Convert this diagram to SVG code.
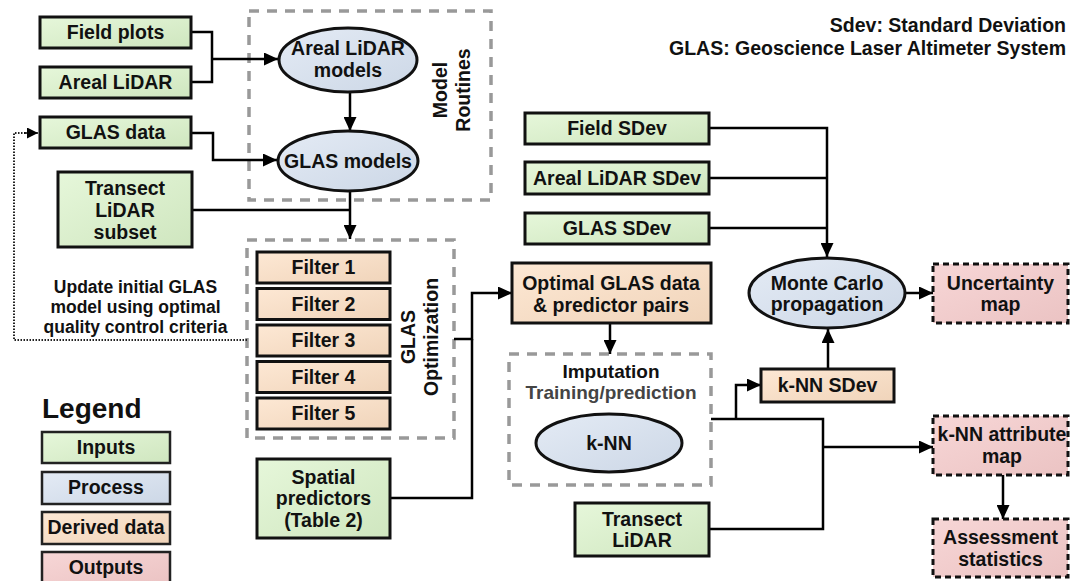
<svg xmlns="http://www.w3.org/2000/svg" width="1071" height="581" viewBox="0 0 1071 581">
<defs>
<linearGradient id="gIn" x1="0" y1="0" x2="1" y2="1"><stop offset="0" stop-color="#e6f7da"/><stop offset="1" stop-color="#cfe6bf"/></linearGradient>
<linearGradient id="gPr" x1="0" y1="0" x2="1" y2="1"><stop offset="0" stop-color="#e4ebf5"/><stop offset="1" stop-color="#ccd7e6"/></linearGradient>
<linearGradient id="gDe" x1="0" y1="0" x2="1" y2="1"><stop offset="0" stop-color="#fde8d4"/><stop offset="1" stop-color="#f0d4ba"/></linearGradient>
<linearGradient id="gOu" x1="0" y1="0" x2="1" y2="1"><stop offset="0" stop-color="#f7d6d6"/><stop offset="1" stop-color="#ebc3c3"/></linearGradient>
<marker id="ah" markerUnits="userSpaceOnUse" markerWidth="15" markerHeight="13" refX="14" refY="6.5" orient="auto"><path d="M0,0 L14,6.5 L0,13 z" fill="#000"/></marker>
<marker id="ahs" markerUnits="userSpaceOnUse" markerWidth="12" markerHeight="11" refX="11" refY="5.5" orient="auto"><path d="M0,0 L11,5.5 L0,11 z" fill="#000"/></marker>
</defs>
<style>
text{font-family:"Liberation Sans",Arial,sans-serif;font-weight:bold;font-size:19.5px;fill:#111;text-anchor:middle}
.in{fill:url(#gIn);stroke:#111;stroke-width:3}
.pr{fill:url(#gPr);stroke:#111;stroke-width:3}
.de{fill:url(#gDe);stroke:#111;stroke-width:3}
.ou{fill:url(#gOu);stroke:#111;stroke-width:3;stroke-dasharray:6 4}
.lg{stroke:#222;stroke-width:2.5}
.grp{fill:none;stroke:#999;stroke-width:3.5;stroke-dasharray:10 8}
.c{fill:none;stroke:#000;stroke-width:2.5}
.a{marker-end:url(#ah)}
.dot{fill:none;stroke:#222;stroke-width:2;stroke-dasharray:1.5 1.5}
.sub{fill:#444}
</style>

<g id="group-model-routines">
<rect class="grp" x="249" y="11" width="242" height="189"/>
<text transform="translate(451,90) rotate(-90)"><tspan x="0" y="-4">Model</tspan><tspan x="0" y="19">Routines</tspan></text>
</g>
<g id="group-glas-optimization">
<rect class="grp" x="247" y="240" width="207" height="198"/>
<text transform="translate(419,337) rotate(-90)"><tspan x="0" y="-4">GLAS</tspan><tspan x="0" y="19">Optimization</tspan></text>
</g>
<g id="group-imputation">
<rect class="grp" x="509" y="354" width="202" height="131"/>
<text x="611" y="378" style="font-size:19px">Imputation</text>
<text class="sub" x="611" y="399" style="font-size:19px">Training/prediction</text>
</g>

<g id="connectors">
<path class="c" d="M191,32 H212 V82 H191"/>
<path class="c a" d="M212,59 H278"/>
<path class="c a" d="M350,92 V131"/>
<path class="c a" d="M191,133 H213 V160 H277"/>
<path class="c" d="M192,210 H350"/>
<path class="c a" d="M350,191 V239"/>
<path class="dot" d="M247,340 H14 V133 H26"/>
<path class="c" d="M24,133 H38" marker-end="url(#ahs)" style="stroke-width:1.5"/>
<path class="c a" d="M454,339 H472 V293 H512"/>
<path class="c" d="M390,498 H472 V339"/>
<path class="c a" d="M610,323 V354"/>
<path class="c a" d="M709,128 H827 V257"/>
<path class="c" d="M709,178 H827"/>
<path class="c" d="M709,228 H827"/>
<path class="c a" d="M905,293 H933"/>
<path class="c a" d="M828,369 V329"/>
<path class="c" d="M711,419 H823 V529 H709"/>
<path class="c a" d="M736,419 V385 H761"/>
<path class="c a" d="M823,447 H933"/>
<path class="c a" d="M1003,475 V519"/>
</g>

<g id="node-field-plots"><rect class="in" x="40" y="17" width="151" height="31"/><text x="115.5" y="39">Field plots</text></g>
<g id="node-areal-lidar"><rect class="in" x="40" y="67" width="151" height="31"/><text x="115.5" y="89">Areal LiDAR</text></g>
<g id="node-glas-data"><rect class="in" x="40" y="117" width="151" height="31"/><text x="115.5" y="139">GLAS data</text></g>
<g id="node-transect-lidar-subset"><rect class="in" x="58" y="172" width="134" height="75"/><text x="125" y="195">Transect</text><text x="125" y="217">LiDAR</text><text x="125" y="239">subset</text></g>
<g id="node-areal-lidar-models"><ellipse class="pr" cx="348" cy="60" rx="69" ry="32"/><text x="348" y="55">Areal LiDAR</text><text x="348" y="77">models</text></g>
<g id="node-glas-models"><ellipse class="pr" cx="348" cy="161" rx="70" ry="30"/><text x="348" y="168">GLAS models</text></g>

<g id="node-filter-1"><rect class="de" x="257" y="252" width="133" height="31"/><text x="323.5" y="274">Filter 1</text></g>
<g id="node-filter-2"><rect class="de" x="257" y="288.5" width="133" height="31"/><text x="323.5" y="310.5">Filter 2</text></g>
<g id="node-filter-3"><rect class="de" x="257" y="325" width="133" height="31"/><text x="323.5" y="347">Filter 3</text></g>
<g id="node-filter-4"><rect class="de" x="257" y="361.5" width="133" height="31"/><text x="323.5" y="383.5">Filter 4</text></g>
<g id="node-filter-5"><rect class="de" x="257" y="398" width="133" height="31"/><text x="323.5" y="420">Filter 5</text></g>
<g id="node-spatial-predictors"><rect class="in" x="257" y="459" width="133" height="79"/><text x="323.5" y="484">Spatial</text><text x="323.5" y="505">predictors</text><text x="323.5" y="527">(Table 2)</text></g>

<g id="note-update"><text x="135.5" y="293" style="font-size:17.5px">Update initial GLAS</text><text x="135.5" y="313" style="font-size:17.5px">model using optimal</text><text x="135.5" y="333" style="font-size:17.5px">quality control criteria</text></g>

<g id="legend">
<text x="42" y="418" style="font-size:28px;text-anchor:start">Legend</text>
<rect class="in lg" x="42" y="432" width="128" height="31"/><text x="106" y="454">Inputs</text>
<rect class="pr lg" x="42" y="472" width="128" height="32"/><text x="106" y="494">Process</text>
<rect class="de lg" x="42" y="512" width="128" height="32"/><text x="106" y="534">Derived data</text>
<rect class="ou lg" style="stroke-dasharray:none" x="42" y="552" width="128" height="32"/><text x="106" y="574">Outputs</text>
</g>

<g id="note-abbrev">
<text x="1066" y="32" style="text-anchor:end">Sdev: Standard Deviation</text>
<text x="1066" y="55" style="text-anchor:end">GLAS: Geoscience Laser Altimeter System</text>
</g>

<g id="node-field-sdev"><rect class="in" x="525" y="113" width="184" height="31"/><text x="617" y="135">Field SDev</text></g>
<g id="node-areal-lidar-sdev"><rect class="in" x="525" y="162" width="184" height="32"/><text x="617" y="185">Areal LiDAR SDev</text></g>
<g id="node-glas-sdev"><rect class="in" x="525" y="213" width="184" height="31"/><text x="617" y="235">GLAS SDev</text></g>
<g id="node-optimal"><rect class="de" x="512" y="263" width="199" height="60"/><text x="611" y="290">Optimal GLAS data</text><text x="611" y="312">&amp; predictor pairs</text></g>
<g id="node-knn"><ellipse class="pr" cx="609" cy="443" rx="73" ry="29"/><text x="609" y="450">k-NN</text></g>
<g id="node-transect-lidar"><rect class="in" x="575" y="503" width="134" height="53"/><text x="642" y="526">Transect</text><text x="642" y="547">LiDAR</text></g>
<g id="node-knn-sdev"><rect class="de" x="761" y="369" width="133" height="33"/><text x="827.5" y="392">k-NN SDev</text></g>
<g id="node-monte-carlo"><ellipse class="pr" cx="827" cy="293" rx="78" ry="35"/><text x="827" y="290">Monte Carlo</text><text x="827" y="311">propagation</text></g>
<g id="node-uncertainty-map"><rect class="ou" x="933" y="264" width="135" height="59"/><text x="1000.5" y="290">Uncertainty</text><text x="1000.5" y="311">map</text></g>
<g id="node-knn-attribute-map"><rect class="ou" x="933" y="416" width="135" height="59"/><text x="1002" y="441">k-NN attribute</text><text x="1002" y="463">map</text></g>
<g id="node-assessment-statistics"><rect class="ou" x="933" y="519" width="135" height="58"/><text x="1000.5" y="544">Assessment</text><text x="1000.5" y="566">statistics</text></g>
</svg>
